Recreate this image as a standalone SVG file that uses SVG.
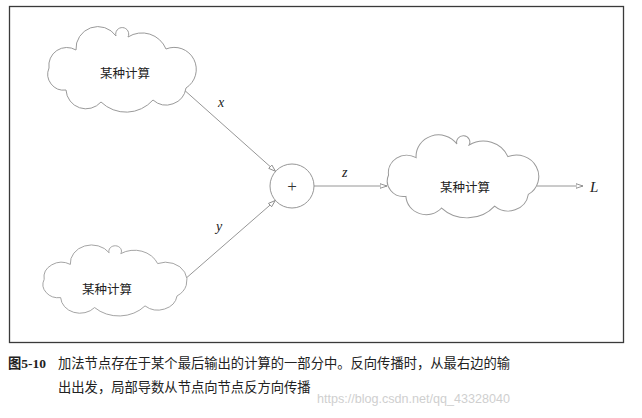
<svg xmlns="http://www.w3.org/2000/svg" xmlns:xlink="http://www.w3.org/1999/xlink" width="642" height="418" viewBox="0 0 642 418">
<style>
.cloud{fill:#fff;stroke:#9a9a9a;stroke-width:1;vector-effect:non-scaling-stroke}
.ctext{font-family:"Noto Sans CJK SC","Noto Sans CJK TC",sans-serif;font-size:12.5px;fill:#222;text-anchor:middle}
.edge{stroke:#8a8a8a;stroke-width:0.9;fill:none}
.var{font-family:"Liberation Serif","DejaVu Serif",serif;font-style:italic;font-size:14px;fill:#222}
.cap{font-family:"Noto Sans CJK SC","Noto Sans CJK TC",sans-serif;font-size:13.3px;fill:#222}
</style>
<defs>
<path id="cloudshape" d="M -72,-2 A 18 18 0 0 1 -45,-20 A 22 22 0 0 1 -5,-34 A 6.5 6.5 0 1 1 7,-33 A 26 26 0 0 1 45,-21 A 22 22 0 0 1 65,18 A 20 20 0 0 1 32,30 A 36 36 0 0 1 -20,32 A 20 20 0 0 1 -55,20 A 16 16 0 0 1 -72,-2 Z"/>
<marker id="arr" viewBox="0 0 8 6" refX="7.5" refY="3" markerWidth="8" markerHeight="6" markerUnits="userSpaceOnUse" orient="auto">
<path d="M0.5,0.7 L7.5,3 L0.5,5.3 Z" fill="#fff" stroke="#8a8a8a" stroke-width="0.9"/>
</marker>
</defs>
<rect width="642" height="418" fill="#fff"/>
<rect x="9.5" y="6.5" width="614" height="336" fill="none" stroke="#3a3a3a" stroke-width="1.3"/>

<g id="connectors">
<line class="edge" x1="182" y1="88" x2="275.5" y2="171.3" marker-end="url(#arr)"/>
<line class="edge" x1="184" y1="280" x2="275.3" y2="200.5" marker-end="url(#arr)"/>
<line class="edge" x1="314" y1="186" x2="387" y2="186" marker-end="url(#arr)"/>
<line class="edge" x1="537" y1="186" x2="583" y2="186" marker-end="url(#arr)"/>
<text class="var" x="218" y="107">x</text>
<text class="var" x="216" y="231">y</text>
<text class="var" x="342" y="177">z</text>
<text class="var" x="590" y="192" style="font-size:15px">L</text>
</g>

<g id="cloud1">
<use xlink:href="#cloudshape" class="cloud" transform="translate(121,70)"/>
<text class="ctext" x="125" y="78">某种计算</text>
</g>
<g id="cloud2">
<use xlink:href="#cloudshape" class="cloud" transform="translate(114,281) scale(0.97,0.83)"/>
<text class="ctext" x="107" y="293.5">某种计算</text>
</g>
<g id="plus">
<circle cx="292" cy="186" r="22" fill="#fff" stroke="#8a8a8a" stroke-width="0.9"/>
<text x="292" y="191.5" text-anchor="middle" style="font-family:'Liberation Serif',serif;font-size:17px;fill:#333">+</text>
</g>
<g id="cloud3">
<use xlink:href="#cloudshape" class="cloud" transform="translate(462,177) scale(1.02,0.97)"/>
<text class="ctext" x="465" y="192">某种计算</text>
</g>

<g id="caption">
<text class="cap" x="8" y="367.5"><tspan style="font-weight:bold">图</tspan><tspan style="font-family:'Liberation Serif',serif;font-weight:bold;font-size:13.5px">5-10</tspan></text>
<text class="cap" x="58" y="367.5">加法节点存在于某个最后输出的计算的一部分中。反向传播时，从最右边的输</text>
<text class="cap" x="58" y="391.5">出出发，局部导数从节点向节点反方向传播</text>
<text x="317" y="403" textLength="193" lengthAdjust="spacingAndGlyphs" style="font-family:'Liberation Sans',sans-serif;font-size:13px;fill:#cfcfcf">https://blog.csdn.net/qq_43328040</text>
</g>
</svg>
